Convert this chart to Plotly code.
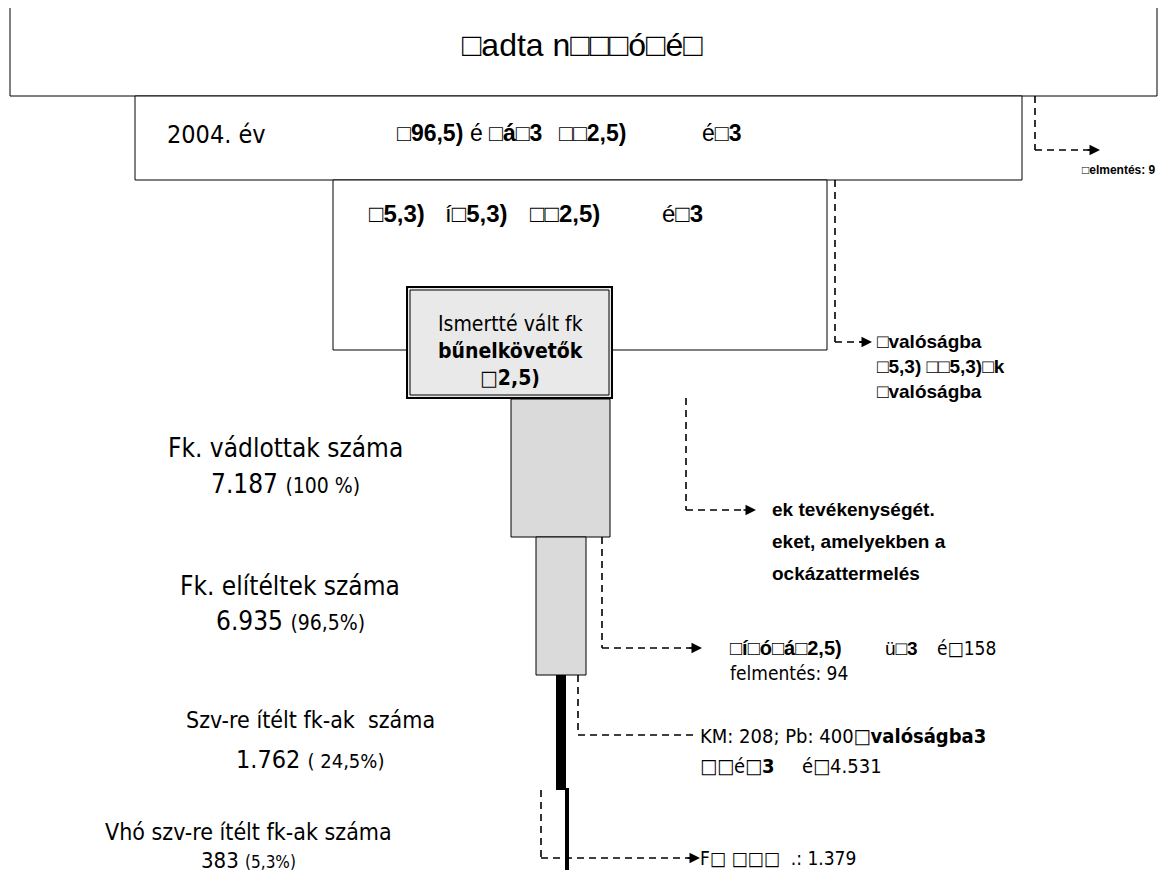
import plotly.graph_objects as go

# ---- data ----
stages = ["Fk. vádlottak száma", "Fk. elítéltek száma", "Szv-re ítélt fk-ak  száma", "Vhó szv-re ítélt fk-ak száma"]
counts = ["7.187", "6.935", "1.762", "383"]
percents = ["(100 %)", "(96,5%)", "( 24,5%)", "(5,3%)"]
year_label = "2004. év"
title_text = "□adta n□□□ó□é□"
box2_parts = ["<b>□96,5)</b>", "é", "<b>□á□3</b>", "<b>□□2,5)</b>", "é<b>□3</b>"]
box3_parts = ["<b>□5,3)</b>", "í<b>□5,3)</b>", "<b>□□2,5)</b>", "é<b>□3</b>"]
grey_lines = ["Ismertté vált fk", "<b>bűnelkövetők</b>", "<b>□2,5)</b>"]
note_top = ["<b>□elmentés: 9</b>"]
note_box3 = ["<b>□valóságba</b>", "<b>□5,3) □□5,3)□k</b>", "<b>□valóságba</b>"]
note_grey = ["<b>ek tevékenységét.</b>", "<b>eket, amelyekben a</b>", "<b>ockázattermelés</b>"]
note_stem2 = ["<b>□í□ó□á□2,5)</b>", "ü<b>□3</b>", "é□158", "felmentés: 94"]
note_thick = ["KM: 208; Pb: 400<b>□valóságba3</b>", "<b>□□</b>é<b>□3</b>", "é□4.531"]
note_thin = ["F<b>□</b> <b>□□□</b>  .: 1.379"]

NARROW = "DejaVu Sans Condensed, Liberation Sans Narrow, sans-serif"
ARIAL = "Liberation Sans, Arial, sans-serif"

fig = go.Figure()
shapes = []
ann = []

def rect(x0, y0, x1, y1, fill="white", w=1, color="black"):
    shapes.append(dict(type="rect", x0=x0, y0=y0, x1=x1, y1=y1, xref="x", yref="y",
                       fillcolor=fill, line=dict(color=color, width=w), layer="below"))

def dline(x0, y0, x1, y1):
    shapes.append(dict(type="line", x0=x0, y0=y0, x1=x1, y1=y1, xref="x", yref="y",
                       line=dict(color="black", width=1.6, dash="7px,5px")))

def arrow_head(x, y):
    ann.append(dict(x=x, y=y, ax=x - 14, ay=y, xref="x", yref="y", axref="x", ayref="y",
                    text="", showarrow=True, arrowhead=2, arrowsize=1.4, arrowwidth=1.5,
                    arrowcolor="black"))

def txt(x, y, s, size, font=ARIAL, anchor="left"):
    ann.append(dict(x=x, y=y, xref="x", yref="y", text=s, showarrow=False,
                    xanchor=anchor, yanchor="middle", font=dict(size=size, family=font, color="black")))

# boxes
rect(10, 3, 1157, 96)
rect(135, 96, 1022, 180)
rect(333, 180, 827, 350)
rect(407, 287, 612, 398, fill="#e9e9e9", w=2)
rect(410, 290, 609, 395, fill="rgba(0,0,0,0)", w=1)
rect(511, 399, 610, 537, fill="#dadada")
rect(536, 537, 586, 675, fill="#dadada")
shapes.append(dict(type="line", x0=561, y0=675, x1=561, y1=790, line=dict(color="black", width=10)))
shapes.append(dict(type="line", x0=567, y0=788, x1=567, y1=870, line=dict(color="black", width=4)))

# connectors
dline(1035, 96, 1035, 150); dline(1035, 150, 1094, 150); arrow_head(1100, 150)
dline(835, 180, 835, 342); dline(835, 342, 866, 342); arrow_head(872, 342)
dline(686, 398, 686, 510); dline(686, 510, 750, 510); arrow_head(756, 510)
dline(602, 537, 602, 648); dline(602, 648, 696, 648); arrow_head(702, 648)
dline(578, 675, 578, 735); dline(578, 735, 694, 735)
dline(541, 790, 541, 858); dline(541, 858, 694, 858); arrow_head(700, 858)

# texts in boxes
txt(582, 45, title_text, 32, ARIAL, "center")
txt(165, 134, year_label, 25, NARROW)
for xs, s in zip([395, 468, 487, 557, 700], box2_parts):
    txt(xs, 133, s, 23, ARIAL)
for xs, s in zip([367, 443, 528, 660], box3_parts):
    txt(xs, 213, s, 24, ARIAL)
for i, s in enumerate(grey_lines):
    txt(510, 324 + i * 27, s, 21, NARROW, "center")

# side notes
txt(1158, 170, note_top[0], 12, ARIAL, "right")
for i, s in enumerate(note_box3):
    txt(875, 341 + i * 25, s, 19, ARIAL)
for i, s in enumerate(note_grey):
    txt(770, 509 + i * 32, s, 19, ARIAL)
txt(728, 648, note_stem2[0], 20, ARIAL)
txt(883, 648, note_stem2[1], 19, ARIAL)
txt(935, 648, note_stem2[2], 19, NARROW)
txt(728, 673, note_stem2[3], 19, NARROW)
txt(698, 736, note_thick[0], 20, NARROW)
txt(698, 766, note_thick[1], 20, NARROW)
txt(800, 766, note_thick[2], 20, NARROW)
txt(698, 858, note_thin[0], 19, NARROW)

# left labels
lx = [285, 290, 310, 248]
ly = [448, 586, 720, 832]
lsz = [26, 26, 23, 23]
nsz = [26, 26, 25, 22]
gap = [36, 35, 39, 28]
for i in range(4):
    txt(lx[i], ly[i], stages[i], lsz[i], NARROW, "center")
    txt(lx[i], ly[i] + gap[i], f"<span style='font-size:{nsz[i]}px'>{counts[i]}</span> "
        f"<span style='font-size:{nsz[i]-5}px'>{percents[i]}</span>", nsz[i], NARROW, "center")

# page body has an 8px margin: size the figure to the visible area and offset the ranges
fig.update_layout(
    width=1153, height=865, margin=dict(l=0, r=0, t=0, b=0),
    paper_bgcolor="white", plot_bgcolor="white", showlegend=False,
    xaxis=dict(range=[8, 1161], visible=False, fixedrange=True),
    yaxis=dict(range=[873, 8], visible=False, fixedrange=True),
    shapes=shapes, annotations=ann,
)
fig.write_html("out.html")
